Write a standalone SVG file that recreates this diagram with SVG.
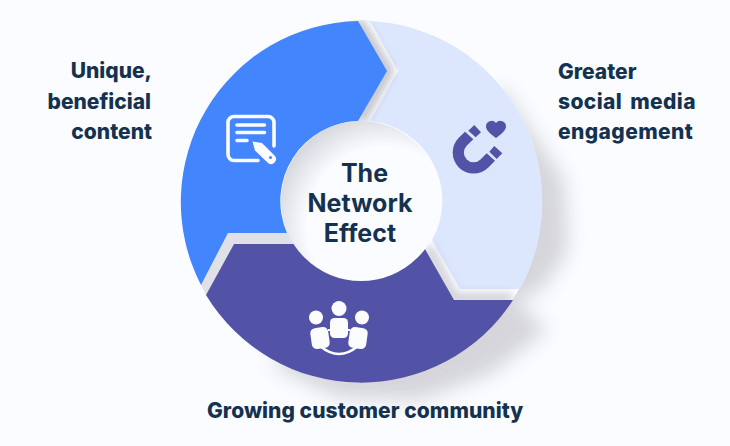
<svg xmlns="http://www.w3.org/2000/svg" width="730" height="446" viewBox="0 0 730 446">
<style>
.lbl{font-family:"Inter","Liberation Sans",sans-serif;font-weight:800;font-size:21px;fill:#14324f}
.mid{font-family:"Inter","Liberation Sans",sans-serif;font-weight:700;font-size:25px;fill:#14324f;text-anchor:middle}
.ic{fill:none;stroke:#fbfcff;stroke-width:3.6;stroke-linecap:round;stroke-linejoin:round}
</style>
<defs>
<filter id="b4" x="-30%" y="-30%" width="160%" height="160%"><feGaussianBlur stdDeviation="4"/></filter>
<filter id="b10" x="-30%" y="-30%" width="160%" height="160%"><feGaussianBlur stdDeviation="10"/></filter>
<radialGradient id="hub" gradientUnits="userSpaceOnUse" cx="385" cy="225" r="115">
<stop offset="0.68" stop-color="#fbfcff"/><stop offset="1" stop-color="#d4d6dc"/>
</radialGradient>
<clipPath id="ringOuter"><path d="M0 0H730V446H0ZM542 201A181 181 0 1 0 180 201A181 181 0 1 0 542 201Z" clip-rule="evenodd"/></clipPath>
<clipPath id="insideRing"><circle cx="361" cy="201" r="181"/></clipPath>
</defs>
<rect width="730" height="446" fill="#fbfcff"/>

<!-- cast shadow beneath the ring -->
<g clip-path="url(#ringOuter)">
<path d="M500 85L564 180 568 250 542 290 515 300 547 330 490 374 420 400 340 398 270 365 380 300Z" fill="#50505a" opacity=".22" filter="url(#b10)"/>
</g>

<g id="connectors">
<!-- shaded gap between the lower wedge and the left wedge -->
<path d="M228 233L296 233 296 244H234L206 295 201 285Z" fill="#dfe1e6"/>
</g>

<g id="seg-social">
<path d="M370 21A181 181 0 0 1 520 289H460L432 240A80 80 0 0 0 370 121L398 71Z" fill="#dce7fe"/>
<g fill="#5252a6">
<path d="M465 131.700L458.800 137.800A20.900 20.900 0 0 0 488.400 167.400L495 160.700 486.700 153.300 480.500 159.500A9.700 9.700 0 0 1 466.700 145.700L473.300 139.300Z"/>
<path d="M474.300 125L481 132.300 475.700 137.300 468.300 130.700Z"/>
<path d="M494.300 146L502.300 153.300 496.700 159 489.300 151.700Z"/>
<path d="M496 138C489 133 486 129.500 486 126.500A5.600 5.600 0 0 1 496 123A5.600 5.600 0 0 1 506 126.500C506 129.500 503 133 496 138Z"/>
</g>
</g>

<g id="shade-lower" clip-path="url(#insideRing)">
<!-- soft edge cast by the lower wedge across the light wedge -->
<path d="M428 247L454 298H512" fill="none" stroke="#6a6c78" stroke-width="9" opacity=".32" filter="url(#b4)"/>
</g>

<g id="shade-upper" clip-path="url(#insideRing)">
<!-- soft edge cast by the left wedge along its notch -->
<path d="M358 21L388 71 360 121" fill="none" stroke="#6a6c78" stroke-width="10" opacity=".42" filter="url(#b4)"/>
</g>

<g id="seg-content">
<path d="M358 21A181 181 0 0 0 201 285L228 233H287A80 80 0 0 1 358 121L387 71Z" fill="#4285fc"/>
<g class="ic">
<path d="M258 160.500H234A6 6 0 0 1 228 154.500V122.500A6 6 0 0 1 234 116.500H268A6 6 0 0 1 274 122.500V146"/>
<path d="M237 125H264.500M237 132.500H264.500M237 140.500H247"/>
</g>
<path d="M252.500 141.500L262 143 275 156A5 5 0 0 1 268 163L255 150.500Z" fill="#fbfcff"/>
<circle cx="270.500" cy="157.500" r="1.500" fill="#4285fc"/>
</g>

<g id="seg-community">
<path d="M234 244H296A80 80 0 0 0 425 249L454 300H513A181 181 0 0 1 206 295Z" fill="#5252a6"/>
<g fill="#fbfcff">
<circle cx="339" cy="308.500" r="7.500"/><circle cx="316" cy="317.500" r="7"/><circle cx="362" cy="317.500" r="7"/>
<rect x="330" y="318" width="18" height="20" rx="4.500"/>
<rect x="311" y="327.500" width="18" height="21" rx="5" transform="rotate(-8 320 338)"/>
<rect x="349" y="327.500" width="18" height="21" rx="5" transform="rotate(8 358 338)"/>
<path d="M328 330H331M347 330H350" stroke="#fbfcff" stroke-width="1.800"/>
<path d="M320 346Q339 362 358 346" fill="none" stroke="#fbfcff" stroke-width="2.400"/>
</g>
</g>

<g id="hub-node">
<circle cx="361" cy="201" r="80" fill="url(#hub)"/>
<text class="mid" x="364.500" y="182">The</text>
<text class="mid" x="360" y="212">Network</text>
<text class="mid" x="360" y="242">Effect</text>
</g>

<g id="label-content">
<text class="lbl" x="152" y="78" text-anchor="end">Unique,</text>
<text class="lbl" x="151" y="109" text-anchor="end">beneficial</text>
<text class="lbl" x="152" y="139" text-anchor="end">content</text>
</g>
<g id="label-social">
<text class="lbl" x="558" y="79">Greater</text>
<text class="lbl" x="558" y="109" letter-spacing=".4" word-spacing="3">social media</text>
<text class="lbl" x="558" y="139" letter-spacing=".4">engagement</text>
</g>
<g id="label-community">
<text class="lbl" x="207" y="418" letter-spacing=".05">Growing customer community</text>
</g>
</svg>
